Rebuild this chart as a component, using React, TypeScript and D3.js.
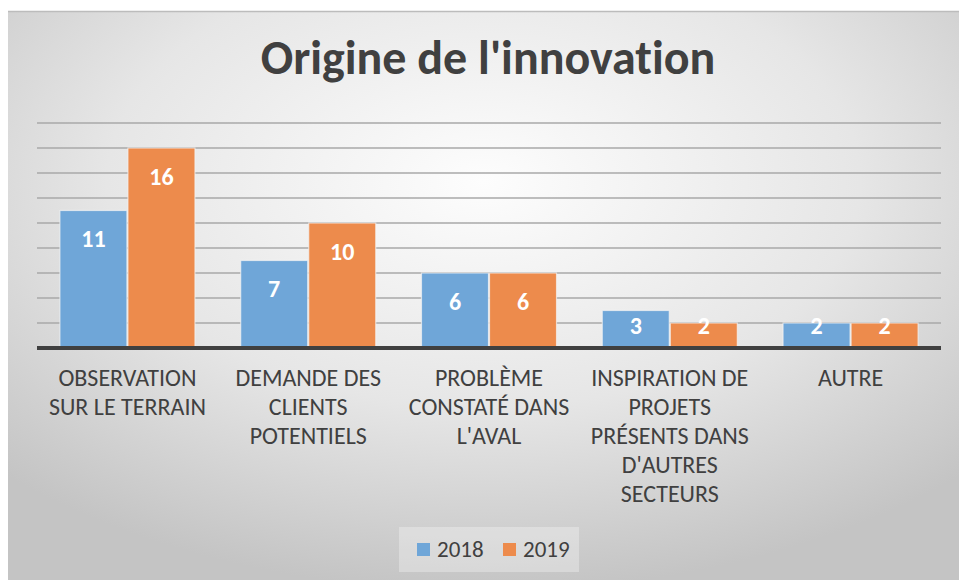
import * as d3 from "d3";

const categories = ["obs", "demande", "probleme", "inspiration", "autre"];
const tickLabels = [
  ["OBSERVATION", "SUR LE TERRAIN"],
  ["DEMANDE DES", "CLIENTS", "POTENTIELS"],
  ["PROBLÈME", "CONSTATÉ DANS", "L'AVAL"],
  ["INSPIRATION DE", "PROJETS", "PRÉSENTS DANS", "D'AUTRES", "SECTEURS"],
  ["AUTRE"],
];
const seriesNames = ["2018", "2019"];
const values2018 = [11, 7, 6, 3, 2];
const values2019 = [16, 10, 6, 2, 2];
const gridTicks = [2, 4, 6, 8, 10, 12, 14, 16, 18];

const W = 959;
const H = 580;
const colors = ["#6fa6d8", "#ed8b4c"];
const font = "Carlito, 'Open Sans', sans-serif";

const App = () => {
  const x = d3.scaleBand<string>()
    .domain(categories)
    .range([37, 941])
    .paddingInner(0.253)
    .paddingOuter(0.1267);
  const xSub = d3.scaleBand<string>()
    .domain(seriesNames)
    .range([0, x.bandwidth()])
    .paddingInner(0.015);
  const y = d3.scaleLinear().domain([0, 18]).range([348, 123]);

  const series = [values2018, values2019];

  return (
    <svg
      width={W}
      height={H}
      style={{ position: "absolute", left: 0, top: 0, fontVariantLigatures: "none" }}
      fontFamily={font}
    >
      <defs>
        <radialGradient id="bg" cx="0.5" cy="0.3" r="0.72">
          <stop offset="0" stopColor="#fdfdfd" />
          <stop offset="0.55" stopColor="#e6e6e6" />
          <stop offset="1" stopColor="#c4c4c4" />
        </radialGradient>
      </defs>
      <rect x={8} y={11} width={W - 8} height={H - 11} fill="url(#bg)" />
      <line x1={8} x2={W} y1={11.5} y2={11.5} stroke="#bcbcbc" strokeWidth={1.5} />

      <text x={488} y={74} textAnchor="middle" fontSize={48} fontWeight="bold" fill="#404040">
        Origine de l'innovation
      </text>

      {gridTicks.map((t) => (
        <line key={t} x1={37} x2={941} y1={y(t)} y2={y(t)} stroke="#a8a8a8" strokeWidth={1.3} />
      ))}

      {categories.map((c, i) => (
        <g key={c} transform={`translate(${x(c)},0)`}>
          {series.map((vals, s) => {
            const v = vals[i];
            const bx = xSub(seriesNames[s])!;
            const top = y(v);
            const ly = Math.min(top + 28.5, 326);
            return (
              <g key={s}>
                <rect
                  x={bx}
                  y={top}
                  width={xSub.bandwidth()}
                  height={y(0) - top}
                  fill={colors[s]}
                  stroke="#f3f3f3"
                  strokeOpacity={0.7}
                  strokeWidth={1.2}
                />
                <text
                  x={bx + xSub.bandwidth() / 2}
                  y={ly}
                  dy="0.35em"
                  textAnchor="middle"
                  fontSize={24}
                  fontWeight="bold"
                  fill="#ffffff"
                >
                  {v}
                </text>
              </g>
            );
          })}
          {tickLabels[i].map((line, k) => (
            <text
              key={k}
              x={x.bandwidth() / 2}
              y={386 + k * 29}
              textAnchor="middle"
              fontSize={24}
              fill="#404040"
            >
              {line}
            </text>
          ))}
        </g>
      ))}

      <line x1={37} x2={941} y1={y(0)} y2={y(0)} stroke="#404040" strokeWidth={4} />

      <rect x={399} y={527} width={180} height={45} fill="#ffffff" fillOpacity={0.3} />
      {seriesNames.map((n, s) => (
        <g key={n} transform={`translate(${417 + s * 86},0)`}>
          <rect x={0} y={543} width={13} height={13} fill={colors[s]} />
          <text x={20} y={557} fontSize={23} fill="#404040">
            {n}
          </text>
        </g>
      ))}
    </svg>
  );
};

export default App;
